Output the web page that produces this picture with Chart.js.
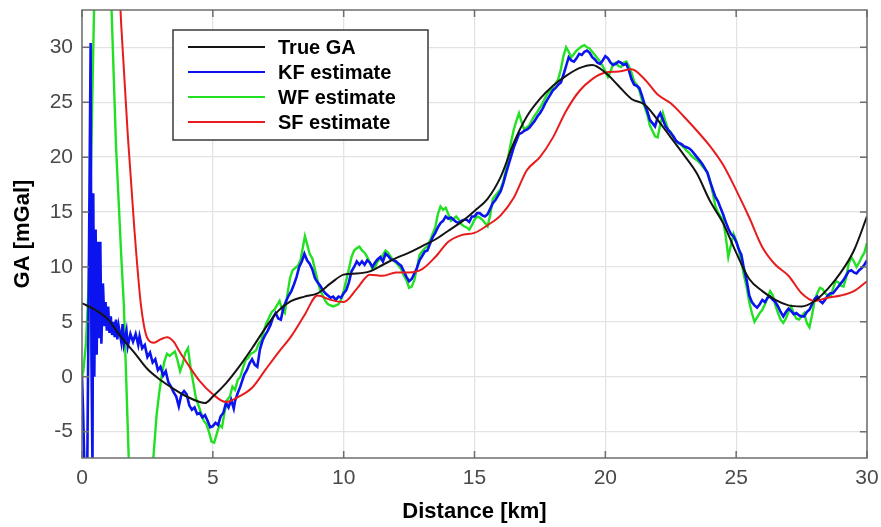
<!DOCTYPE html>
<html>
<head>
<meta charset="utf-8">
<script src="https://cdn.jsdelivr.net/npm/chart.js@4"></script>
<style>
  body { margin: 0; background: #fff; }
  #wrap { width: 881px; height: 527px; }
</style>
</head>
<body>
<div id="wrap"><canvas id="gaChart" width="881" height="527"></canvas></div>
<script>
// distance axis (km) and values (mGal)
const trueKm = [0, 0.5, 1, 1.5, 2, 2.5, 3, 3.5, 4, 4.5, 4.7, 5, 5.5, 6, 6.5, 7, 7.5, 8, 8.5, 9, 9.5, 10, 10.5, 11, 11.5, 12, 12.5, 13, 13.5, 14, 14.5, 15, 15.5, 16, 16.5, 17, 17.5, 18, 18.5, 19, 19.5, 20, 20.5, 21, 21.5, 22, 22.5, 23, 23.5, 24, 24.5, 25, 25.5, 26, 26.5, 27, 27.5, 28, 28.5, 29, 29.5, 30];
const trueGa = [6.7, 6.1, 5.2, 3.6, 2.2, 0.7, -0.3, -1.1, -1.8, -2.3, -2.4, -1.8, -0.6, 0.9, 2.6, 4.4, 6.0, 6.9, 7.3, 7.6, 8.5, 9.3, 9.4, 9.6, 10.2, 10.8, 11.3, 11.9, 12.5, 13.3, 14.1, 15.1, 16.2, 18.2, 21.3, 23.7, 25.3, 26.5, 27.4, 28.1, 28.4, 27.7, 26.5, 25.3, 24.8, 23.4, 21.8, 20.2, 18.5, 16.0, 14.0, 11.3, 8.9, 7.8, 7.0, 6.5, 6.4, 6.9, 8.0, 9.5, 11.5, 14.6];

const sfKm = [1.4, 1.5, 1.75, 2, 2.25, 2.5, 2.75, 3, 3.25, 3.5, 3.75, 4, 4.5, 5, 5.5, 6, 6.5, 7, 7.5, 8, 8.5, 9, 9.5, 10, 10.5, 11, 11.5, 12, 12.5, 13, 13.5, 14, 14.5, 15, 15.5, 16, 16.5, 17, 17.5, 18, 18.5, 19, 19.5, 20, 20.5, 21, 21.5, 22, 22.5, 23, 23.5, 24, 24.5, 25, 25.5, 26, 26.5, 27, 27.5, 28, 28.5, 29, 29.5, 30];
const sfGa = [37, 32, 22, 13.5, 6.6, 3.5, 3.1, 3.4, 3.6, 3.2, 2.2, 1.3, -0.4, -1.6, -2.3, -1.8, -1.0, 0.6, 2.2, 3.7, 5.6, 7.4, 7.0, 6.8, 8.0, 9.3, 9.2, 9.5, 9.5, 9.8, 10.9, 12.3, 12.9, 13.1, 13.8, 14.7, 16.3, 18.8, 20.0, 21.8, 24.2, 26.0, 27.1, 27.7, 27.8, 28.0, 27.1, 25.7, 24.9, 23.7, 22.4, 21.0, 19.3, 17.0, 14.5, 11.8, 10.2, 9.2, 7.6, 6.9, 7.2, 7.4, 7.8, 8.7];

const kfKm = [0, 0.04, 0.1, 0.2, 0.27, 0.33, 0.36, 0.4, 0.43, 0.47, 0.52, 0.56, 0.62, 0.66, 0.7, 0.74, 0.8, 0.86, 0.9, 0.95, 1.0, 1.05, 1.1, 1.15, 1.2, 1.25, 1.3, 1.35, 1.4, 1.5, 1.55, 1.6, 1.7, 1.75, 1.85, 1.95, 2.05, 2.15, 2.2, 2.3, 2.4, 2.5, 2.6, 2.7, 2.8, 2.9, 3.0, 3.1, 3.2, 3.3, 3.4, 3.5, 3.6, 3.7, 3.8, 3.9, 4.0, 4.1, 4.2, 4.3, 4.4, 4.5, 4.6, 4.7, 4.8, 4.9, 5.0, 5.1, 5.2, 5.3, 5.4, 5.5, 5.6, 5.7, 5.8, 5.85, 5.95, 6.05, 6.2, 6.3, 6.4, 6.5, 6.6, 6.7, 6.8, 6.9, 7.0, 7.1, 7.2, 7.3, 7.4, 7.5, 7.6, 7.7, 7.8, 7.9, 8.0, 8.1, 8.2, 8.3, 8.4, 8.5, 8.6, 8.7, 8.8, 8.9, 9.0, 9.1, 9.2, 9.3, 9.4, 9.5, 9.6, 9.7, 9.8, 9.9, 10.0, 10.1, 10.2, 10.3, 10.4, 10.5, 10.6, 10.7, 10.8, 10.9, 11.0, 11.1, 11.2, 11.3, 11.4, 11.5, 11.6, 11.7, 11.8, 11.9, 12.0, 12.1, 12.2, 12.3, 12.4, 12.5, 12.6, 12.7, 12.8, 12.9, 13.0, 13.1, 13.2, 13.3, 13.4, 13.5, 13.6, 13.7, 13.8, 13.9, 14.0, 14.1, 14.2, 14.3, 14.4, 14.5, 14.6, 14.7, 14.8, 14.9, 15.0, 15.1, 15.2, 15.3, 15.4, 15.5, 15.6, 15.7, 15.8, 15.9, 16.0, 16.1, 16.2, 16.3, 16.4, 16.5, 16.6, 16.7, 16.8, 16.9, 17.0, 17.1, 17.2, 17.3, 17.4, 17.5, 17.6, 17.7, 17.8, 17.9, 18.0, 18.1, 18.2, 18.3, 18.4, 18.5, 18.6, 18.7, 18.8, 18.9, 19.0, 19.1, 19.2, 19.3, 19.4, 19.5, 19.6, 19.7, 19.8, 19.9, 20.0, 20.1, 20.2, 20.3, 20.4, 20.5, 20.6, 20.7, 20.8, 20.9, 21.0, 21.1, 21.2, 21.3, 21.4, 21.5, 21.6, 21.7, 21.8, 21.9, 22.0, 22.1, 22.2, 22.3, 22.4, 22.5, 22.6, 22.7, 22.8, 22.9, 23.0, 23.1, 23.2, 23.3, 23.4, 23.5, 23.6, 23.7, 23.8, 23.9, 24.0, 24.1, 24.2, 24.3, 24.4, 24.5, 24.6, 24.7, 24.8, 24.9, 25.0, 25.1, 25.2, 25.3, 25.4, 25.5, 25.6, 25.7, 25.8, 25.9, 26.0, 26.1, 26.2, 26.3, 26.4, 26.5, 26.6, 26.7, 26.8, 26.9, 27.0, 27.1, 27.2, 27.3, 27.4, 27.5, 27.6, 27.7, 27.8, 27.9, 28.0, 28.1, 28.2, 28.3, 28.4, 28.5, 28.6, 28.7, 28.8, 28.9, 29.0, 29.1, 29.2, 29.3, 29.4, 29.5, 29.6, 29.7, 29.8, 29.9, 30.0];
const kfGa = [0, -3, -9, -9, 12, 30.4, 2, -8, 16.7, 0, 13.4, 2, 12.3, 3.5, 12.3, 3, 8.5, 4.6, 6.8, 4.2, 6.4, 4.0, 5.5, 3.8, 5.0, 3.6, 5.2, 3.4, 4.6, 3.2, 4.8, 3.0, 4.2, 2.8, 3.9, 3.2, 3.9, 2.9, 3.7, 2.6, 2.9, 1.8, 2.2, 1.3, 1.6, 0.6, 0.9, 0.1, 0.5, -0.5, -0.9, -1.4, -1.8, -2.7, -1.6, -1.3, -1.6, -2.6, -3.0, -2.8, -3.4, -3.3, -3.7, -3.5, -4.0, -4.6, -4.5, -4.2, -4.4, -3.6, -3.3, -2.4, -2.8, -2.1, -2.9, -2.2, -1.5, -0.9, 0.2, 0.6, 1.2, 1.6, 1.1, 0.9, 2.5, 3.3, 3.8, 4.2, 4.7, 5.4, 5.8, 5.3, 5.2, 6.3, 6.9, 7.4, 7.8, 8.4, 9.1, 10.0, 10.5, 11.2, 10.6, 10.3, 9.8, 9.0, 8.6, 8.3, 7.9, 7.6, 7.4, 7.2, 7.3, 7.0, 7.3, 7.2, 7.6, 7.9, 8.6, 9.6, 10.0, 10.5, 10.2, 10.5, 10.2, 10.6, 10.4, 10.0, 10.4, 10.7, 10.9, 10.5, 11.2, 11.0, 10.7, 10.6, 10.5, 10.3, 10.1, 9.6, 9.1, 8.7, 8.9, 9.4, 9.9, 10.6, 11.0, 11.4, 11.5, 12.1, 12.7, 13.1, 13.6, 14.0, 14.2, 14.6, 14.4, 14.5, 14.3, 14.1, 14.0, 14.2, 14.3, 14.3, 14.1, 14.6, 14.6, 14.9, 14.9, 14.7, 14.6, 14.8, 15.3, 15.8, 16.1, 16.5, 16.9, 17.6, 18.5, 19.3, 20.1, 20.9, 21.5, 22.1, 22.2, 22.4, 22.5, 22.7, 23.0, 23.3, 23.7, 24.0, 24.4, 24.9, 25.3, 25.7, 26.1, 26.3, 26.6, 26.8, 27.5, 28.3, 29.1, 28.8, 28.7, 29.0, 29.4, 29.3, 29.6, 29.7, 29.5, 29.1, 28.9, 28.6, 28.5, 28.8, 29.2, 29.0, 28.6, 28.4, 28.5, 28.7, 28.6, 28.4, 28.5, 27.9, 27.1, 26.6, 26.5, 26.3, 25.6, 24.8, 24.2, 23.4, 23.1, 22.8, 23.6, 24.0, 23.4, 22.8, 22.5, 22.2, 21.9, 21.5, 21.3, 21.2, 21.0, 20.9, 20.8, 20.6, 20.3, 20.0, 19.7, 19.4, 19.0, 18.6, 17.8, 17.1, 16.4, 16.0, 15.4, 14.8, 14.1, 13.5, 13.0, 12.8, 12.3, 11.6, 11.1, 9.8, 8.8, 7.4, 6.8, 6.5, 6.3, 6.6, 7.0, 6.8, 7.2, 7.3, 7.0, 6.8, 6.4, 5.9, 5.5, 5.9, 6.2, 6.0, 5.7, 5.8, 5.6, 5.5, 5.5, 5.9, 6.1, 6.6, 7.1, 7.3, 6.9, 6.7, 7.0, 7.4, 7.6, 7.6, 7.9, 8.2, 8.5, 8.8, 9.2, 9.6, 9.7, 9.5, 9.4, 9.7, 9.9, 10.2, 10.6];

const wfKm = [0, 0.05, 0.15, 0.25, 0.35, 0.46, 0.55, 0.8, 1.0, 1.13, 1.3, 1.4, 1.5, 1.6, 1.7, 1.78, 1.9, 2.2, 2.5, 2.74, 2.85, 2.95, 3.05, 3.15, 3.25, 3.35, 3.45, 3.55, 3.65, 3.75, 3.85, 3.95, 4.05, 4.15, 4.25, 4.35, 4.45, 4.55, 4.65, 4.75, 4.85, 4.95, 5.05, 5.15, 5.25, 5.35, 5.45, 5.55, 5.65, 5.75, 5.85, 5.95, 6.05, 6.15, 6.25, 6.35, 6.45, 6.55, 6.65, 6.75, 6.85, 6.95, 7.05, 7.15, 7.25, 7.35, 7.45, 7.55, 7.65, 7.75, 7.85, 7.95, 8.05, 8.15, 8.25, 8.35, 8.45, 8.52, 8.6, 8.7, 8.8, 8.9, 9.0, 9.1, 9.2, 9.3, 9.4, 9.5, 9.6, 9.7, 9.8, 9.9, 10.0, 10.1, 10.2, 10.3, 10.4, 10.5, 10.6, 10.7, 10.8, 10.9, 11.0, 11.1, 11.2, 11.3, 11.4, 11.5, 11.6, 11.7, 11.8, 11.9, 12.0, 12.1, 12.2, 12.3, 12.4, 12.5, 12.6, 12.7, 12.8, 12.9, 13.0, 13.1, 13.2, 13.3, 13.4, 13.5, 13.6, 13.7, 13.8, 13.9, 14.0, 14.1, 14.2, 14.3, 14.4, 14.5, 14.6, 14.7, 14.8, 14.9, 15.0, 15.1, 15.2, 15.3, 15.4, 15.5, 15.6, 15.7, 15.8, 15.9, 16.0, 16.1, 16.2, 16.3, 16.4, 16.5, 16.6, 16.7, 16.8, 16.9, 17.0, 17.1, 17.2, 17.3, 17.4, 17.5, 17.6, 17.7, 17.8, 17.9, 18.0, 18.1, 18.2, 18.3, 18.4, 18.5, 18.6, 18.7, 18.8, 18.9, 19.0, 19.1, 19.2, 19.3, 19.4, 19.5, 19.6, 19.7, 19.8, 19.9, 20.0, 20.1, 20.2, 20.3, 20.4, 20.5, 20.6, 20.7, 20.8, 20.9, 21.0, 21.1, 21.2, 21.3, 21.4, 21.5, 21.6, 21.7, 21.8, 21.9, 22.0, 22.1, 22.2, 22.3, 22.4, 22.5, 22.6, 22.7, 22.8, 22.9, 23.0, 23.1, 23.2, 23.3, 23.4, 23.5, 23.6, 23.7, 23.8, 23.9, 24.0, 24.1, 24.2, 24.3, 24.4, 24.5, 24.6, 24.7, 24.8, 24.9, 25.0, 25.1, 25.2, 25.3, 25.4, 25.5, 25.6, 25.7, 25.8, 25.9, 26.0, 26.1, 26.2, 26.3, 26.4, 26.5, 26.6, 26.7, 26.8, 26.9, 27.0, 27.1, 27.2, 27.3, 27.4, 27.5, 27.6, 27.7, 27.8, 27.9, 28.0, 28.1, 28.2, 28.3, 28.4, 28.5, 28.6, 28.7, 28.8, 28.9, 29.0, 29.1, 29.2, 29.3, 29.4, 29.5, 29.6, 29.7, 29.8, 29.9, 30.0];
const wfGa = [0, 0.5, 3, 8, 20, 33.4, 42, 50, 42, 33.4, 21, 16, 11, 6.5, -1, -7, -15, -20, -14, -7, -3.5, -1.5, 0.2, 1.4, 2.1, 1.9, 2.1, 2.3, 1.5, 0.5, 1.2, 2.2, 2.6, 0.8, -0.5, -1.9, -2.6, -3.3, -4.0, -4.3, -5.0, -5.9, -6.0, -5.2, -4.4, -4.6, -3.2, -2.1, -1.8, -0.9, -1.2, -0.3, 0.0, 0.8, 1.5, 1.7, 2.1, 2.2, 2.4, 3.0, 3.3, 4.2, 4.9, 5.4, 5.9, 6.1, 6.5, 6.9, 6.1, 5.8, 7.5, 9.0, 9.7, 9.9, 10.1, 10.6, 11.9, 12.8, 12.1, 11.2, 10.8, 9.8, 8.8, 7.9, 7.4, 6.9, 6.6, 6.5, 6.4, 6.5, 6.6, 7.0, 7.8, 8.8, 9.8, 10.9, 11.5, 11.7, 11.85, 11.5, 11.3, 10.9, 10.4, 9.8, 10.0, 10.5, 10.7, 11.1, 11.5, 11.3, 10.9, 10.6, 10.4, 10.1, 9.8, 9.2, 8.8, 8.1, 8.2, 8.8, 9.9, 11.1, 11.4, 11.7, 11.9, 12.4, 13.0, 13.6, 14.8, 15.5, 15.2, 15.4, 14.8, 14.2, 14.4, 14.6, 14.3, 13.9, 13.7, 13.6, 13.4, 13.8, 14.3, 14.6, 14.5, 14.3, 14.0, 13.7, 14.7, 16.2, 16.5, 16.8, 17.1, 17.8, 18.8, 20.2, 21.4, 22.5, 23.3, 24.0, 23.2, 22.5, 22.7, 22.9, 23.4, 23.8, 24.1, 24.5, 24.9, 25.4, 25.8, 26.1, 26.4, 26.7, 27.1, 28.0, 29.2, 30.0, 29.6, 29.1, 29.4, 29.7, 29.9, 30.1, 30.2, 30.0, 29.9, 29.6, 29.3, 29.0, 28.7, 28.3, 27.8, 27.3, 27.8, 28.5, 28.6, 28.3, 28.2, 28.6, 28.7, 28.3, 27.7, 26.9, 26.6, 26.1, 25.2, 24.6, 23.9, 22.9, 22.4, 21.9, 21.8, 23.0, 24.0, 23.2, 22.5, 22.3, 21.8, 21.5, 21.3, 21.1, 20.9, 20.6, 20.4, 20.1, 19.9, 19.7, 19.5, 19.2, 18.9, 18.6, 17.9, 16.8, 15.6, 15.0, 14.6, 14.3, 12.8, 10.9, 12.0, 13.0, 12.4, 11.6, 10.4, 9.2, 8.2, 6.8, 5.8, 5.0, 5.4, 5.8, 6.1, 6.6, 7.2, 7.8, 7.4, 6.5, 5.8, 5.2, 4.9, 5.3, 5.9, 6.4, 5.8, 5.3, 5.2, 5.5, 5.8, 4.9, 4.5, 5.6, 7.0, 7.6, 8.1, 8.0, 7.6, 7.4, 7.3, 8.0, 8.7, 8.6, 8.3, 8.2, 9.0, 10.3, 10.9, 10.5, 10.0, 10.4, 10.9, 11.3, 12.2];

const xTicks = [0, 5, 10, 15, 20, 25, 30];
const yTicks = [-5, 0, 5, 10, 15, 20, 25, 30];

const toPoints = (km, ga) => km.map((x, i) => ({ x: x, y: ga[i] }));

// MATLAB style box + inward ticks
const axesBox = {
  id: 'axesBox',
  afterDatasetsDraw(chart) {
    const { ctx, chartArea: a, scales } = chart;
    ctx.save();
    ctx.strokeStyle = '#6e6e6e';
    ctx.lineWidth = 1.5;
    ctx.strokeRect(a.left, a.top, a.right - a.left, a.bottom - a.top);
    ctx.beginPath();
    xTicks.forEach(v => {
      const px = scales.x.getPixelForValue(v);
      ctx.moveTo(px, a.bottom); ctx.lineTo(px, a.bottom - 7);
      ctx.moveTo(px, a.top); ctx.lineTo(px, a.top + 7);
    });
    yTicks.forEach(v => {
      const py = scales.y.getPixelForValue(v);
      ctx.moveTo(a.left, py); ctx.lineTo(a.left + 7, py);
      ctx.moveTo(a.right, py); ctx.lineTo(a.right - 7, py);
    });
    ctx.stroke();
    ctx.restore();
  }
};

// boxed legend inside the axes, top left
const boxLegend = {
  id: 'boxLegend',
  afterDraw(chart) {
    const { ctx, chartArea: a } = chart;
    const bx = a.left + 91, by = a.top + 20, bw = 255, bh = 110;
    ctx.save();
    ctx.fillStyle = '#fff';
    ctx.fillRect(bx, by, bw, bh);
    ctx.strokeStyle = '#3a3a3a';
    ctx.lineWidth = 1.5;
    ctx.strokeRect(bx, by, bw, bh);
    ctx.font = 'bold 20px "Liberation Sans", Arial, sans-serif';
    ctx.textBaseline = 'middle';
    chart.data.datasets.forEach((ds, i) => {
      const y = by + 17 + i * 25;
      ctx.strokeStyle = ds.borderColor;
      ctx.lineWidth = 2;
      ctx.beginPath();
      ctx.moveTo(bx + 15, y);
      ctx.lineTo(bx + 92, y);
      ctx.stroke();
      ctx.fillStyle = '#000';
      ctx.fillText(ds.label, bx + 105, y + 1);
    });
    ctx.restore();
  }
};

const ctx = document.getElementById('gaChart').getContext('2d');

new Chart(ctx, {
  type: 'line',
  data: {
    datasets: [
      {
        label: 'True GA',
        data: toPoints(trueKm, trueGa),
        borderColor: '#141414',
        borderWidth: 2,
        cubicInterpolationMode: 'monotone',
        pointRadius: 0,
        clip: 0,
        order: 0
      },
      {
        label: 'KF estimate',
        data: toPoints(kfKm, kfGa),
        borderColor: '#0b14ee',
        borderWidth: 2.6,
        tension: 0,
        pointRadius: 0,
        clip: 0,
        order: 2
      },
      {
        label: 'WF estimate',
        data: toPoints(wfKm, wfGa),
        borderColor: '#22e022',
        borderWidth: 2.4,
        tension: 0,
        pointRadius: 0,
        clip: 0,
        order: 3
      },
      {
        label: 'SF estimate',
        data: toPoints(sfKm, sfGa),
        borderColor: '#e81c1c',
        borderWidth: 2,
        cubicInterpolationMode: 'monotone',
        pointRadius: 0,
        clip: 0,
        order: 1
      }
    ]
  },
  options: {
    responsive: false,
    animation: false,
    layout: {
      padding: { top: 10, right: 14, left: 0, bottom: 0 }
    },
    plugins: {
      legend: { display: false },
      tooltip: { enabled: false }
    },
    scales: {
      x: {
        type: 'linear',
        min: 0,
        max: 30,
        afterFit: s => { s.height = 69; s.paddingLeft = 0; s.paddingRight = 0; },
        afterBuildTicks: s => { s.ticks = xTicks.map(v => ({ value: v })); },
        ticks: {
          color: '#4a4a4a',
          padding: 8,
          font: { family: '"Liberation Sans", Arial, sans-serif', size: 21 }
        },
        grid: { color: '#e3e3e3', lineWidth: 1.3, drawTicks: false },
        border: { display: false },
        title: {
          display: true,
          text: 'Distance [km]',
          color: '#000',
          padding: { top: 0, bottom: 2 },
          font: { family: '"Liberation Sans", Arial, sans-serif', size: 22, weight: 'bold' }
        }
      },
      y: {
        min: -7.4,
        max: 33.4,
        afterFit: s => { s.width = 82; s.paddingTop = 0; s.paddingBottom = 0; },
        afterBuildTicks: s => { s.ticks = yTicks.map(v => ({ value: v })); },
        ticks: {
          color: '#4a4a4a',
          padding: 9,
          font: { family: '"Liberation Sans", Arial, sans-serif', size: 21 }
        },
        grid: { color: '#e3e3e3', lineWidth: 1.3, drawTicks: false },
        border: { display: false },
        title: {
          display: true,
          text: 'GA [mGal]',
          color: '#000',
          padding: { top: 10, bottom: 0 },
          font: { family: '"Liberation Sans", Arial, sans-serif', size: 22, weight: 'bold' }
        }
      }
    }
  },
  plugins: [axesBox, boxLegend]
});
</script>
</body>
</html>
